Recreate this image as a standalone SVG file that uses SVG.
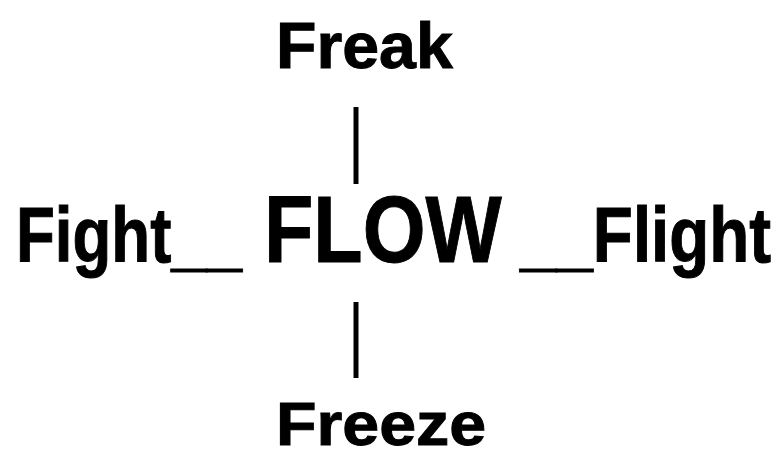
<svg xmlns="http://www.w3.org/2000/svg" width="780" height="457" viewBox="0 0 780 457">
  <style>
    .lbl { font-family: "Liberation Sans", Arial, sans-serif; font-weight: bold; fill: #000; stroke: #000; stroke-width: 1; }
    .bar { stroke: #000; stroke-width: 5; }
  </style>
  <rect width="780" height="457" fill="#fff"/>
  <g id="connectors">
    <line class="bar" x1="356" y1="107" x2="356" y2="184"/>
    <line class="bar" x1="356" y1="302" x2="356" y2="378"/>
  </g>
  <!-- labels are narrowed horizontally to a condensed look -->
  <g id="freak">
    <text class="lbl" transform="translate(276 68) scale(1.035 1)" font-size="64">Freak</text>
  </g>
  <g id="flow">
    <text class="lbl" transform="translate(264 262) scale(0.85 1)" font-size="95">FLOW</text>
  </g>
  <g id="fight">
    <text class="lbl" transform="translate(16 262) scale(0.815 1)" font-size="78">Fight__</text>
  </g>
  <g id="flight">
    <text class="lbl" transform="translate(520 262) scale(0.84 1)" font-size="78">__Flight</text>
  </g>
  <g id="freeze">
    <text class="lbl" transform="translate(276 445) scale(1.07 1)" font-size="62">Freeze</text>
  </g>
</svg>
